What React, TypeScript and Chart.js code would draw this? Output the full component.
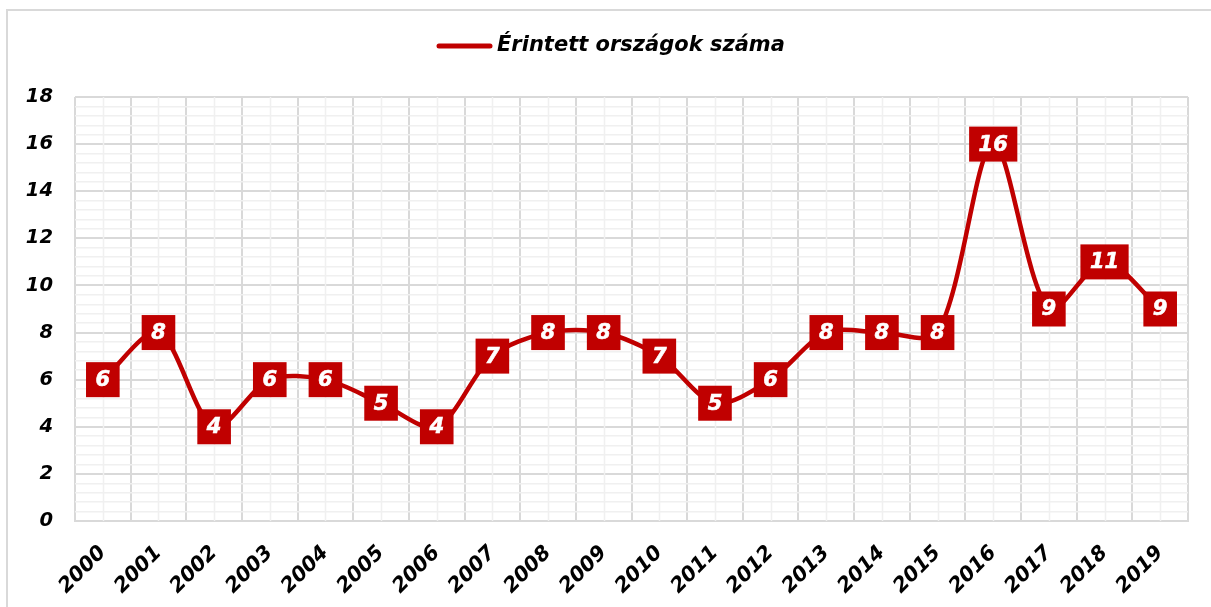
import React, { useEffect, useRef } from "react";
import { Chart, registerables } from "chart.js";

Chart.register(...registerables);

const years = ["2000","2001","2002","2003","2004","2005","2006","2007","2008","2009","2010","2011","2012","2013","2014","2015","2016","2017","2018","2019"];
const countries = [6, 8, 4, 6, 6, 5, 4, 7, 8, 8, 7, 5, 6, 8, 8, 8, 16, 9, 11, 9];
const seriesLabel = "Érintett országok száma";

const RED = "#C00000";
const FONT = "'DejaVu Sans', Verdana, sans-serif";

const isMajor = (v: number) => Math.abs(v / 2 - Math.round(v / 2)) < 1e-6;

const decorPlugin = {
  id: "decor",
  beforeDraw(chart: any) {
    const ctx = chart.ctx;
    ctx.save();
    ctx.fillStyle = "#fff";
    ctx.fillRect(0, 0, chart.width, chart.height);
    ctx.strokeStyle = "#D9D9D9";
    ctx.lineWidth = 2;
    ctx.beginPath();
    ctx.moveTo(7, chart.height + 5);
    ctx.lineTo(7, 10);
    ctx.lineTo(chart.width + 5, 10);
    ctx.stroke();
    // legend
    ctx.strokeStyle = RED;
    ctx.lineWidth = 5;
    ctx.lineCap = "round";
    ctx.beginPath();
    ctx.moveTo(439, 46);
    ctx.lineTo(490, 46);
    ctx.stroke();
    ctx.fillStyle = "#000";
    ctx.font = `italic bold 21px ${FONT}`;
    ctx.textBaseline = "middle";
    ctx.textAlign = "left";
    ctx.fillText(seriesLabel, 497, 46);
    ctx.restore();
  },
  beforeDatasetsDraw(chart: any) {
    // minor vertical lines at category centres
    const ctx = chart.ctx;
    const xs = chart.scales.x;
    const area = chart.chartArea;
    ctx.save();
    ctx.strokeStyle = "#F0F0F0";
    ctx.lineWidth = 1.5;
    years.forEach((_, i) => {
      const x = Math.round(xs.getPixelForValue(i)) + 0.5;
      ctx.beginPath();
      ctx.moveTo(x, area.top);
      ctx.lineTo(x, area.bottom);
      ctx.stroke();
    });
    ctx.restore();
  },
  afterDatasetsDraw(chart: any) {
    const ctx = chart.ctx;
    const meta = chart.getDatasetMeta(0);
    ctx.save();
    ctx.font = `italic bold 21px ${FONT}`;
    ctx.textAlign = "center";
    ctx.textBaseline = "middle";
    meta.data.forEach((pt: any, i: number) => {
      const txt = String(countries[i]);
      const w = ctx.measureText(txt).width + 19;
      const h = 35;
      ctx.fillStyle = RED;
      ctx.fillRect(pt.x - w / 2, pt.y - h / 2, w, h);
      ctx.fillStyle = "#fff";
      ctx.strokeStyle = "#fff";
      ctx.lineWidth = 0.6;
      ctx.fillText(txt, pt.x, pt.y + 1);
      ctx.strokeText(txt, pt.x, pt.y + 1);
    });
    ctx.restore();
  },
};

export default function App() {
  const ref = useRef<HTMLCanvasElement>(null);
  useEffect(() => {
    if (!ref.current) return;
    const chart = new Chart(ref.current, {
      type: "line",
      data: {
        labels: years,
        datasets: [
          {
            label: seriesLabel,
            data: countries,
            borderColor: RED,
            backgroundColor: RED,
            borderWidth: 4.5,
            tension: 0.3,
            pointRadius: 0,
            pointHoverRadius: 0,
            borderCapStyle: "round",
            borderJoinStyle: "round",
          },
        ],
      },
      options: {
        animation: false,
        responsive: false,
        layout: { padding: { left: 0, top: 97, right: 23, bottom: 0 } },
        plugins: { legend: { display: false }, tooltip: { enabled: false }, title: { display: false } },
        scales: {
          x: {
            offset: true,
            grid: { offset: true, color: "#D9D9D9", lineWidth: 2, drawTicks: false },
            border: { color: "#D9D9D9", width: 2 },
            ticks: {
              autoSkip: false,
              maxRotation: 45,
              minRotation: 45,
              padding: 20,
              color: "#000",
              font: { family: FONT, size: 20.5, weight: "bold", style: "italic" },
            },
            afterFit: (s: any) => { s.height = 86; },
          },
          y: {
            min: 0,
            max: 18,
            ticks: {
              stepSize: 0.4,
              autoSkip: false,
              padding: 22,
              color: "#000",
              font: { family: FONT, size: 19.5, weight: "bold", style: "italic" },
              callback: (v: any) => (isMajor(Number(v)) ? String(Math.round(Number(v))) : ""),
            },
            grid: {
              drawTicks: false,
              color: (c: any) => (isMajor(c.tick.value) ? "#D9D9D9" : "#F0F0F0"),
              lineWidth: (c: any) => (isMajor(c.tick.value) ? 2 : 1.5),
            },
            border: { display: false },
            afterFit: (s: any) => { s.width = 75; },
          },
        },
      },
      plugins: [decorPlugin],
    });
    return () => chart.destroy();
  }, []);
  return (
    <div style={{ position: "fixed", left: 0, top: 0, width: 1211, height: 607 }}>
      <canvas ref={ref} width={1211} height={607} style={{ display: "block" }} />
    </div>
  );
}
